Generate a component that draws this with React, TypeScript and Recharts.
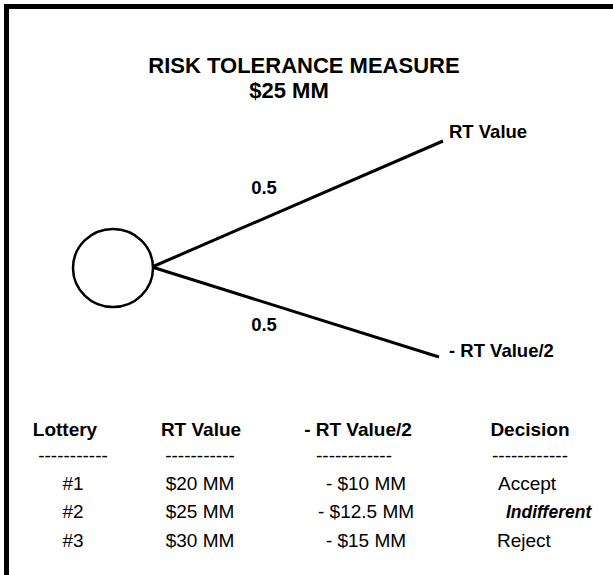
import React from "react";
import { ScatterChart, Scatter, XAxis, YAxis } from "recharts";

// ---- data ----
const TITLE_LINES = ["RISK TOLERANCE MEASURE", "$25 MM"];
const PROBABILITIES = ["0.5", "0.5"];
const OUTCOMES = ["RT Value", "- RT Value/2"];
const HEADERS = ["Lottery", "RT Value", "- RT Value/2", "Decision"];
const SEPARATORS = ["-----------", "-----------", "------------", "------------"];
const LOTTERIES = ["#1", "#2", "#3"];
const RT_VALUES = ["$20 MM", "$25 MM", "$30 MM"];
const NEG_VALUES = ["- $10 MM", "- $12.5 MM", "- $15 MM"];
const DECISIONS = ["Accept", "Indifferent", "Reject"];
const EMPHASIS = [false, true, false];

// ---- layout (diagram coordinate space = pixels) ----
const W = 613;
const H = 575;
const FONT = "'Liberation Sans', Arial, Helvetica, sans-serif";
const NODE = { x: 113, y: 268, r: 40 };
const BRANCH_ENDS = [
  { x: 443, y: 141 },
  { x: 439, y: 357 },
];
const PROB_POS = [
  { x: 264, y: 194 },
  { x: 264, y: 331 },
];
const OUTCOME_POS = [
  { x: 449, y: 138 },
  { x: 449, y: 357 },
];
const TITLE_POS = [
  { x: 304, y: 73 },
  { x: 289, y: 98 },
];
const HEADER_X = [65, 201, 358, 530];
const SEP_X = [73, 200, 354, 530];
const COL_X = [73, 200, 366];
const DEC_X = [498, 506, 497];
const HEADER_Y = 436;
const SEP_Y = 462;
const ROW_Y = [490, 518, 547];
const TITLE_SIZE = 22;
const LABEL_SIZE = 18.5;
const TABLE_SIZE = 19;
const EMPH_SIZE = 17.5;

const frame = [
  { x: 6.5, y: H },
  { x: 6.5, y: 6.5 },
  { x: W, y: 6.5 },
];

const branches = BRANCH_ENDS.map((e) => [
  { x: NODE.x + NODE.r - 1, y: NODE.y - 1 },
  e,
]);

type Lbl = {
  x: number;
  y: number;
  text: string;
  size: number;
  weight: string;
  italic?: boolean;
  anchor: "start" | "middle" | "end";
};

const labels: Lbl[] = [];
TITLE_LINES.forEach((t, i) =>
  labels.push({ ...TITLE_POS[i], text: t, size: TITLE_SIZE, weight: "bold", anchor: "middle" })
);
PROBABILITIES.forEach((t, i) =>
  labels.push({ ...PROB_POS[i], text: t, size: LABEL_SIZE, weight: "bold", anchor: "middle" })
);
OUTCOMES.forEach((t, i) =>
  labels.push({ ...OUTCOME_POS[i], text: t, size: LABEL_SIZE, weight: "bold", anchor: "start" })
);
HEADERS.forEach((t, i) =>
  labels.push({ x: HEADER_X[i], y: HEADER_Y, text: t, size: TABLE_SIZE, weight: "bold", anchor: "middle" })
);
SEPARATORS.forEach((t, i) =>
  labels.push({ x: SEP_X[i], y: SEP_Y, text: t, size: TABLE_SIZE, weight: "normal", anchor: "middle" })
);
LOTTERIES.forEach((_, r) => {
  labels.push({ x: COL_X[0], y: ROW_Y[r], text: LOTTERIES[r], size: TABLE_SIZE, weight: "normal", anchor: "middle" });
  labels.push({ x: COL_X[1], y: ROW_Y[r], text: RT_VALUES[r], size: TABLE_SIZE, weight: "normal", anchor: "middle" });
  labels.push({ x: COL_X[2], y: ROW_Y[r], text: NEG_VALUES[r], size: TABLE_SIZE, weight: "normal", anchor: "middle" });
  labels.push({
    x: DEC_X[r],
    y: ROW_Y[r],
    text: DECISIONS[r],
    size: EMPHASIS[r] ? EMPH_SIZE : TABLE_SIZE,
    weight: EMPHASIS[r] ? "bold" : "normal",
    italic: EMPHASIS[r],
    anchor: "start",
  });
});

const TextShape = (props: any) => {
  const p = props.payload as Lbl;
  return (
    <text
      x={props.cx}
      y={props.cy}
      textAnchor={p.anchor}
      fontFamily={FONT}
      fontSize={p.size}
      fontWeight={p.weight}
      fontStyle={p.italic ? "italic" : "normal"}
      fill="#000"
    >
      {p.text}
    </text>
  );
};

const NodeShape = (props: any) => (
  <ellipse
    cx={props.cx}
    cy={props.cy}
    rx={NODE.r}
    ry={NODE.r - 1}
    fill="#fff"
    stroke="#000"
    strokeWidth={2.5}
  />
);

const Nothing = () => null;

export default function App() {
  return (
    <div style={{ position: "absolute", left: 0, top: 0, width: W, height: H, background: "#fff" }}>
      <ScatterChart width={W} height={H} margin={{ top: 0, right: 0, bottom: 0, left: 0 }}>
        <XAxis type="number" dataKey="x" domain={[0, W]} hide allowDataOverflow />
        <YAxis type="number" dataKey="y" domain={[0, H]} reversed hide allowDataOverflow />
        <Scatter
          data={frame}
          line={{ stroke: "#000", strokeWidth: 5 }}
          shape={Nothing}
          isAnimationActive={false}
        />
        {branches.map((b, i) => (
          <Scatter
            key={i}
            data={b}
            line={{ stroke: "#000", strokeWidth: 3 }}
            shape={Nothing}
            isAnimationActive={false}
          />
        ))}
        <Scatter data={[NODE]} shape={NodeShape} isAnimationActive={false} />
        <Scatter data={labels} shape={TextShape} isAnimationActive={false} />
      </ScatterChart>
    </div>
  );
}
